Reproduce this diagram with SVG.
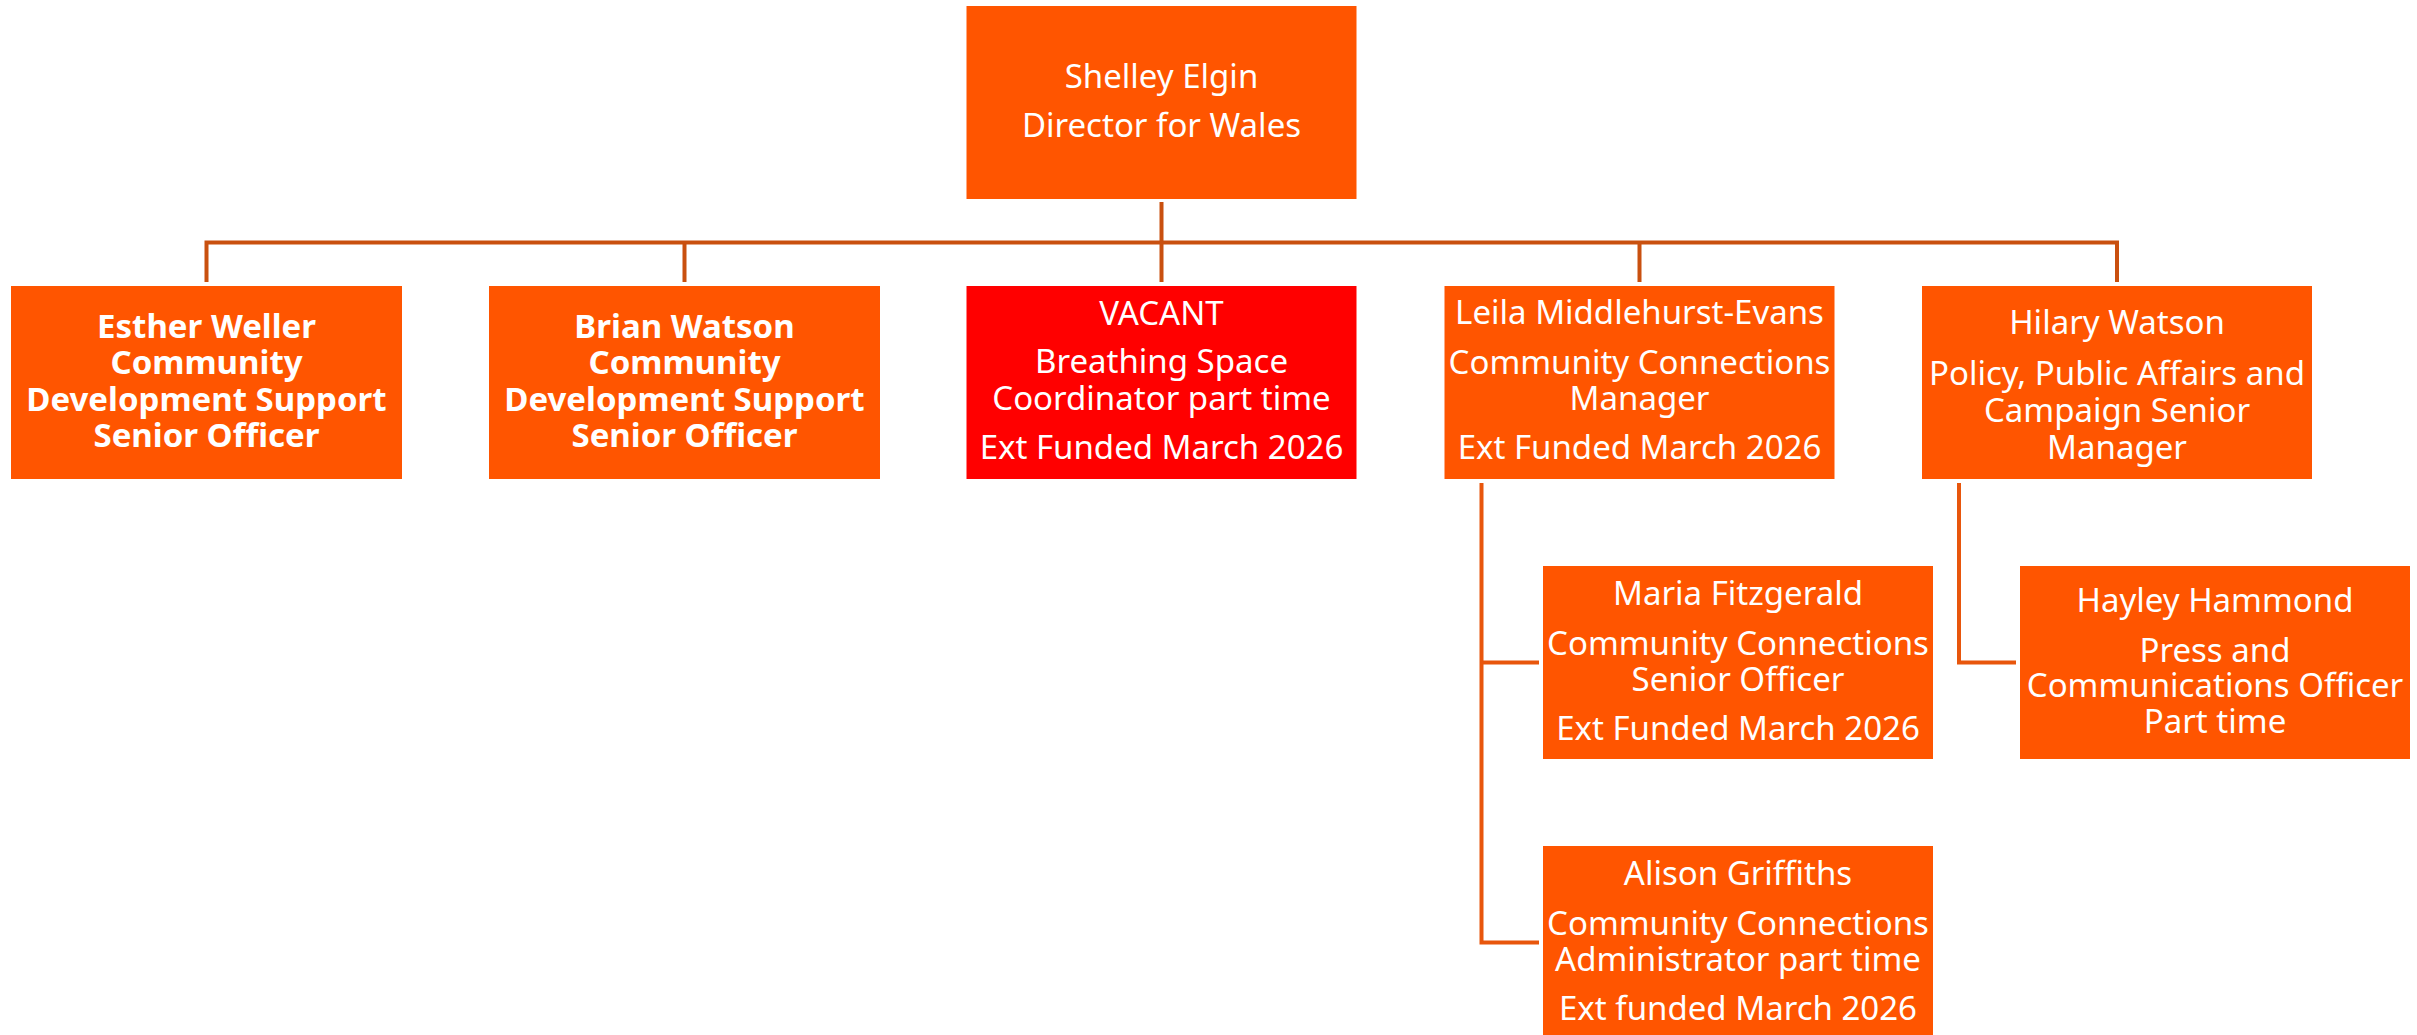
<svg xmlns="http://www.w3.org/2000/svg" width="2417" height="1035" viewBox="0 0 2417 1035">
<style>
.box{fill:#FF5500}
.vac{fill:#FF0000}
.t{font-family:"Noto Sans","Open Sans",sans-serif;font-size:33px;fill:#FFFFFF;text-anchor:middle}
.b{font-weight:bold;font-size:33px}
.c1{fill:none;stroke:#C9500F;stroke-width:4}
.c2{fill:none;stroke:#E8560C;stroke-width:4}
</style>
<rect width="2417" height="1035" fill="#FFFFFF"/>
<g id="connectors">
<path class="c1" d="M1161.5 202V282 M206.5 282V242.5H2117V282 M684.5 242.5V282 M1639.5 242.5V282"/>
<path class="c2" d="M1481.5 483V942.5H1539 M1481.5 662.5H1539"/>
<path class="c2" d="M1959 483V662.5H2016"/>
</g>
<g id="shelley">
<rect class="box" x="966.5" y="6" width="390" height="193"/>
<text class="t" x="1161.5" y="88">Shelley Elgin</text>
<text class="t" x="1161.5" y="137">Director for Wales</text>
</g>
<g id="esther">
<rect class="box" x="11" y="286" width="391" height="193"/>
<text class="t b" x="206.5" y="338">Esther Weller</text>
<text class="t b" x="206.5" y="374">Community</text>
<text class="t b" x="206.5" y="411">Development Support</text>
<text class="t b" x="206.5" y="447">Senior Officer</text>
</g>
<g id="brian">
<rect class="box" x="489" y="286" width="391" height="193"/>
<text class="t b" x="684.5" y="338">Brian Watson</text>
<text class="t b" x="684.5" y="374">Community</text>
<text class="t b" x="684.5" y="411">Development Support</text>
<text class="t b" x="684.5" y="447">Senior Officer</text>
</g>
<g id="vacant">
<rect class="vac" x="966.5" y="286" width="390" height="193"/>
<text class="t" x="1161.5" y="325">VACANT</text>
<text class="t" x="1161.5" y="373">Breathing Space</text>
<text class="t" x="1161.5" y="410">Coordinator part time</text>
<text class="t" x="1161.5" y="459">Ext Funded March 2026</text>
</g>
<g id="leila">
<rect class="box" x="1444.5" y="286" width="390" height="193"/>
<text class="t" x="1639.5" y="324">Leila Middlehurst-Evans</text>
<text class="t" x="1639.5" y="374">Community Connections</text>
<text class="t" x="1639.5" y="410">Manager</text>
<text class="t" x="1639.5" y="459">Ext Funded March 2026</text>
</g>
<g id="hilary">
<rect class="box" x="1922" y="286" width="390" height="193"/>
<text class="t" x="2117" y="334">Hilary Watson</text>
<text class="t" x="2117" y="385">Policy, Public Affairs and</text>
<text class="t" x="2117" y="422">Campaign Senior</text>
<text class="t" x="2117" y="459">Manager</text>
</g>
<g id="maria">
<rect class="box" x="1543" y="566" width="390" height="193"/>
<text class="t" x="1738" y="605">Maria Fitzgerald</text>
<text class="t" x="1738" y="655">Community Connections</text>
<text class="t" x="1738" y="691">Senior Officer</text>
<text class="t" x="1738" y="740">Ext Funded March 2026</text>
</g>
<g id="alison">
<rect class="box" x="1543" y="846" width="390" height="193"/>
<text class="t" x="1738" y="885">Alison Griffiths</text>
<text class="t" x="1738" y="935">Community Connections</text>
<text class="t" x="1738" y="971">Administrator part time</text>
<text class="t" x="1738" y="1020">Ext funded March 2026</text>
</g>
<g id="hayley">
<rect class="box" x="2020" y="566" width="390" height="193"/>
<text class="t" x="2215" y="612">Hayley Hammond</text>
<text class="t" x="2215" y="662">Press and</text>
<text class="t" x="2215" y="697">Communications Officer</text>
<text class="t" x="2215" y="733">Part time</text>
</g>
</svg>
